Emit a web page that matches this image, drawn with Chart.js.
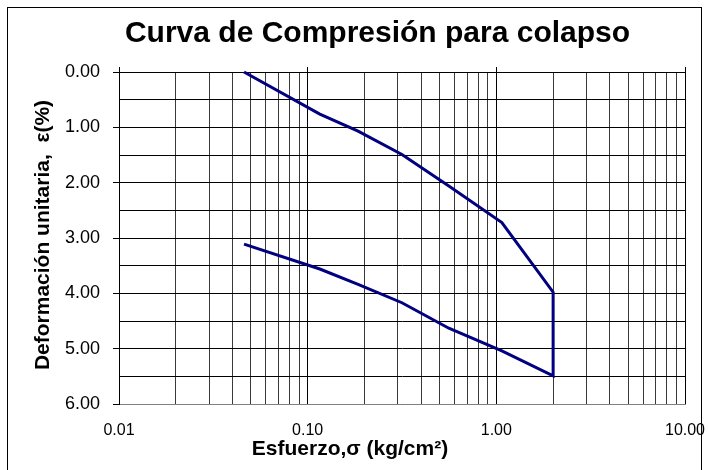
<!DOCTYPE html>
<html>
<head>
<meta charset="utf-8">
<script src="https://cdn.jsdelivr.net/npm/chart.js@4"></script>
<style>
html, body { margin: 0; padding: 0; background: #fff; }
#wrap { width: 708px; height: 470px; position: relative; }
</style>
</head>
<body>
<div id="wrap"><canvas id="colapso"></canvas></div>
<script>
// datos: carga y luego descarga
var esfuerzo    = [0.046, 0.116, 0.185, 0.316, 0.56, 1.07, 2.0, 2.0, 1.07, 0.56, 0.316, 0.185, 0.116, 0.046];
var deformacion = [0.00, 0.76, 1.07, 1.49, 2.06, 2.72, 3.98, 5.49, 5.04, 4.63, 4.17, 3.84, 3.56, 3.11];
var decadas   = [0.01, 0.1, 1, 10];
var multiplos = [1, 2, 3, 4, 5, 6, 7, 8, 9];

var fuente = '"Liberation Sans", Arial, sans-serif';
Chart.defaults.font.family = fuente;
Chart.defaults.color = '#000';

var puntos = esfuerzo.map(function(x, i) { return {x: x, y: deformacion[i]}; });

function ticksLog(scale) {
	var t = [];
	decadas.forEach(function(d) {
		multiplos.forEach(function(m) {
			var v = d * m;
			if (v <= 10) t.push({value: v, major: m === 1});
		});
	});
	scale.ticks = t;
}

var rotulos = {
	id: 'rotulos',
	afterDraw: function(chart) {
		var c = chart.ctx;
		c.save();
		c.strokeStyle = '#000';
		c.lineWidth = 1;
		c.strokeRect(7.5, 7.5, 694, 470);
		c.fillStyle = '#000';
		c.textAlign = 'center';
		c.textBaseline = 'alphabetic';
		c.font = 'bold 30px ' + fuente;
		c.fillText('Curva de Compresión para colapso', 377.5, 42);
		c.font = 'bold 21px ' + fuente;
		c.fillText('Esfuerzo,σ (kg/cm²)', 350, 455);
		c.translate(43, 235);
		c.rotate(-Math.PI / 2);
		c.textBaseline = 'middle';
		c.fillText('Deformación unitaria,  ε(%)', 0, 0);
		c.restore();
	}
};

var config = {
type: 'scatter',
data: {
	datasets: [{
		data: puntos,
		showLine: true,
		borderColor: '#000080',
		backgroundColor: '#000080',
		borderWidth: 3,
		pointRadius: 0,
		clip: false
	}]
},
options: {
	responsive: true,
	maintainAspectRatio: false,
	animation: false,
	layout: { padding: { top: 0, left: 0, right: 23, bottom: 0 } },
	plugins: {
		legend: { display: false },
		tooltip: { enabled: false },
		title: { display: false }
	},
	scales: {
		x: {
			type: 'logarithmic',
			position: 'bottom',
			min: 0.01,
			max: 10,
			afterBuildTicks: ticksLog,
			afterFit: function(s) { s.height = 66; s.paddingLeft = 0; s.paddingRight = 0; },
			grid: {
				color: function(ctx) { return ctx.tick && ctx.tick.major ? '#000' : '#3a3a3a'; },
				drawTicks: false
			},
			border: { color: '#808080' },
			ticks: {
				autoSkip: false,
				maxRotation: 0,
				padding: 17,
				font: { size: 16 },
				callback: function(v) { return decadas.indexOf(v) >= 0 ? v.toFixed(2) : ''; }
			}
		},
		x2: {
			type: 'logarithmic',
			position: 'top',
			min: 0.01,
			max: 10,
			afterBuildTicks: function(s) { s.ticks = decadas.map(function(d) { return {value: d, major: true}; }); },
			afterFit: function(s) { s.height = 72; s.paddingLeft = 0; s.paddingRight = 0; },
			grid: { drawOnChartArea: false, tickLength: 5, color: '#000' },
			border: { color: '#000' },
			ticks: { display: false }
		},
		y: {
			reverse: true,
			min: 0,
			max: 6,
			afterFit: function(s) { s.width = 119; },
			grid: {
				color: '#000',
				tickLength: 6,
				tickColor: function(ctx) { return ctx.tick && Number.isInteger(ctx.tick.value) ? '#000' : 'rgba(0,0,0,0)'; }
			},
			border: { color: '#000' },
			ticks: {
				stepSize: 0.5,
				autoSkip: false,
				padding: 13,
				font: { size: 18 },
				callback: function(v) { return Number.isInteger(v) ? v.toFixed(2) : ''; }
			}
		}
	}
},
plugins: [rotulos]
};

window.onload = function() {
var ctx = document.getElementById('colapso').getContext('2d');
window.myChart = new Chart(ctx, config);
};
</script>
</body>
</html>
